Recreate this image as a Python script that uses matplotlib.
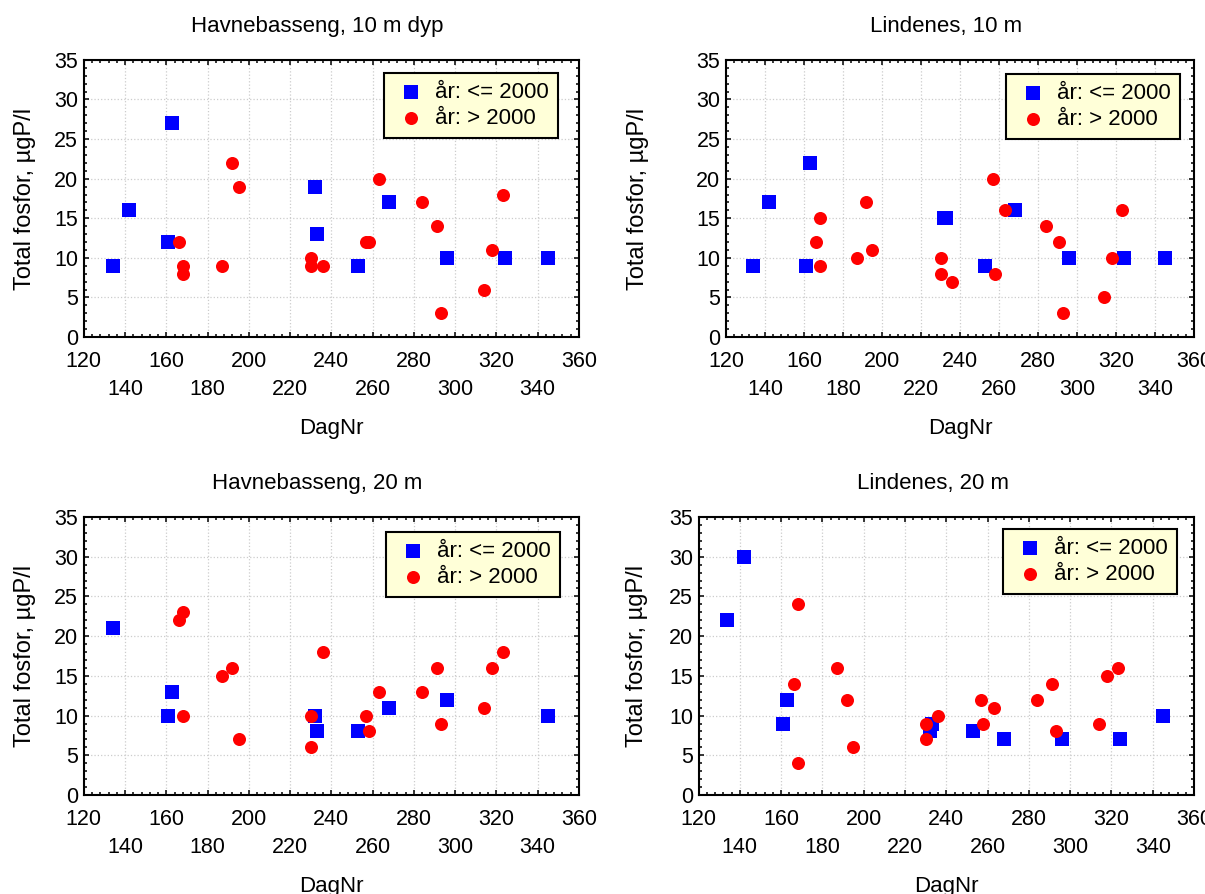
import numpy as np
import matplotlib
matplotlib.use("Agg")
import matplotlib.pyplot as plt
from matplotlib.ticker import MultipleLocator

plt.rcParams['font.family'] = ['Liberation Sans', 'DejaVu Sans']

# dagnummer for prøvene
dag_for = [134, 142, 161, 163, 232, 233, 253, 268, 296, 324, 345]
dag_etter = [166, 168, 168, 187, 192, 195, 230, 230, 236, 257, 258, 263, 284, 291, 293, 314, 318, 323]

titler = ["Havnebasseng, 10 m dyp", "Lindenes, 10 m", "Havnebasseng, 20 m", "Lindenes, 20 m"]

# total fosfor, år <= 2000
havn10_for = [9, 16, 12, 27, 19, 13, 9, 17, 10, 10, 10]
lind10_for = [9, 17, 9, 22, 15, 15, 9, 16, 10, 10, 10]
havn20_for = [21, np.nan, 10, 13, 10, 8, 8, 11, 12, np.nan, 10]
lind20_for = [22, 30, 9, 12, 8, 9, 8, 7, 7, 7, 10]

# total fosfor, år > 2000
havn10_etter = [12, 9, 8, 9, 22, 19, 10, 9, 9, 12, 12, 20, 17, 14, 3, 6, 11, 18]
lind10_etter = [12, 15, 9, 10, 17, 11, 10, 8, 7, 20, 8, 16, 14, 12, 3, 5, 10, 16]
havn20_etter = [22, 23, 10, 15, 16, 7, 10, 6, 18, 10, 8, 13, 13, 16, 9, 11, 16, 18]
lind20_etter = [14, 24, 4, 16, 12, 6, 9, 7, 10, 12, 9, 11, 12, 14, 8, 9, 15, 16]

serier_for = [havn10_for, lind10_for, havn20_for, lind20_for]
serier_etter = [havn10_etter, lind10_etter, havn20_etter, lind20_etter]

xticks = list(range(120, 361, 20))
xlabels = [str(v) if i % 2 == 0 else "\n" + str(v) for i, v in enumerate(xticks)]

fig = plt.figure(figsize=(12.05, 8.94), dpi=100)

# [left, bottom, width, height], ylabel x, legend anchor, title x
oppsett = [
    ([0.0695, 0.623, 0.411, 0.310], -0.0965, (0.9576, 0.953), 0.471),
    ([0.6025, 0.623, 0.3884, 0.310], -0.165, (0.970, 0.949), 0.470),
    ([0.0695, 0.1107, 0.411, 0.311], -0.0965, (0.9616, 0.946), 0.471),
    ([0.5797, 0.1107, 0.4112, 0.311], -0.102, (0.9657, 0.957), 0.473),
]

for k in range(4):
    pos, ylx, leg_anchor, tx = oppsett[k]
    ax = fig.add_axes(pos)
    ax.scatter(dag_for, serier_for[k], marker='s', s=88, color='#0000ff',
               linewidths=0, label='år: <= 2000', zorder=3)
    ax.scatter(dag_etter, serier_etter[k], marker='o', s=88, color='#ff0000',
               linewidths=0, label='år: > 2000', zorder=4)
    ax.set_xlim(120, 360)
    ax.set_ylim(0, 35)
    ax.set_xticks(xticks)
    ax.set_xticklabels(xlabels, linespacing=1.45)
    ax.xaxis.set_minor_locator(MultipleLocator(4))
    ax.yaxis.set_major_locator(MultipleLocator(5))
    ax.yaxis.set_minor_locator(MultipleLocator(1))
    ax.tick_params(which='both', direction='in', top=True, right=True, width=1.1, colors='black')
    ax.tick_params(which='major', length=3.5, labelsize=15.5, pad=10)
    ax.tick_params(which='minor', length=2)
    ax.tick_params(axis='y', which='major', pad=4)
    for sp in ax.spines.values():
        sp.set_linewidth(1.5)
    ax.grid(True, which='major', color='#cccccc', linestyle=':', linewidth=0.9)
    ax.set_axisbelow(True)
    ax.set_xlabel("DagNr", fontsize=16)
    ax.xaxis.set_label_coords(0.5, -0.293)
    ax.set_ylabel("Total fosfor, µgP/l", fontsize=17)
    ax.yaxis.set_label_coords(ylx, 0.5)
    ax.set_title(titler[k], fontsize=16, x=tx, pad=20)
    leg = ax.legend(loc='upper right', bbox_to_anchor=leg_anchor, borderaxespad=0,
                    fontsize=16, fancybox=False, framealpha=1, edgecolor='black',
                    facecolor='#ffffd8', handlelength=1.6, handletextpad=0.3,
                    labelspacing=0.22, borderpad=0.4, scatterpoints=1)
    leg.get_frame().set_linewidth(1.5)

fig.savefig("out.png", dpi=100)
